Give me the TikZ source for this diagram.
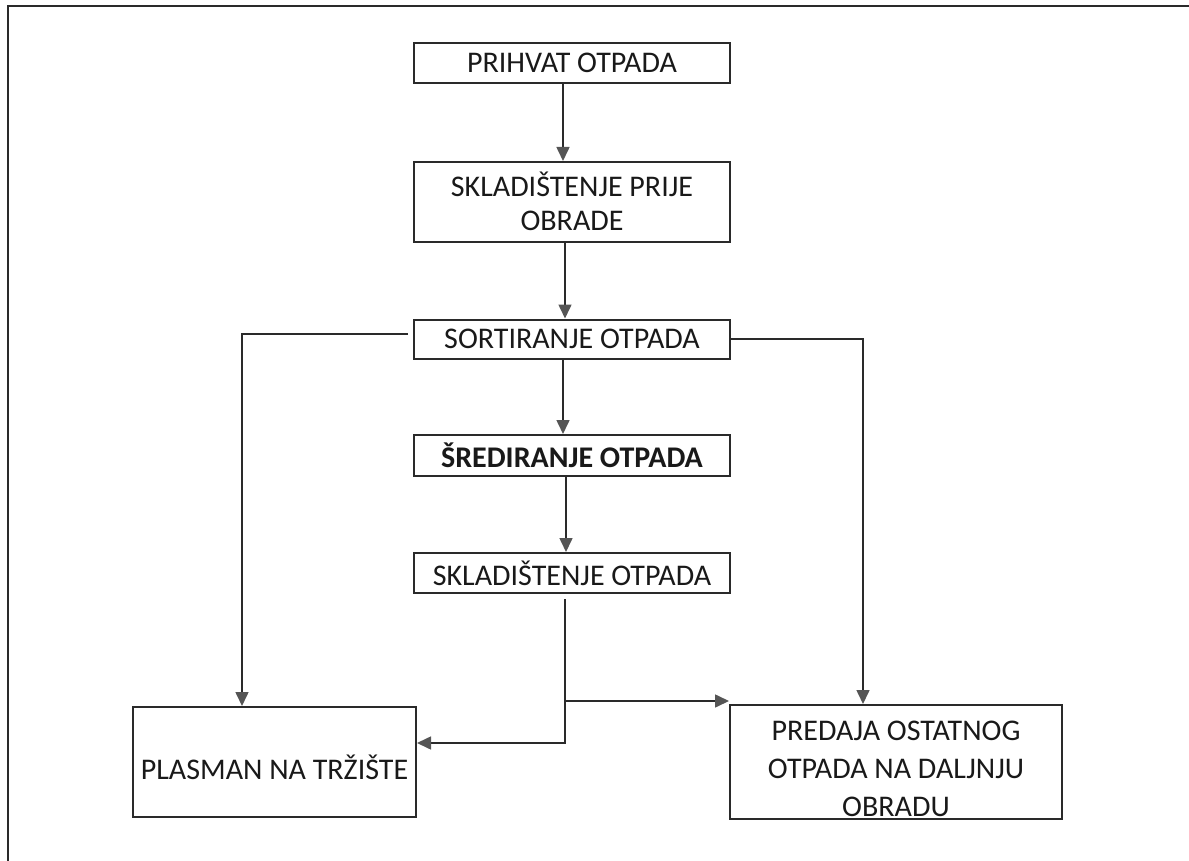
\documentclass[tikz,border=0pt]{standalone}
\usepackage{fontspec}
\setmainfont{Carlito}
\usetikzlibrary{arrows.meta,calc}
\definecolor{linec}{HTML}{2A2A2A}
\definecolor{tipc}{HTML}{555555}
\newcommand{\lowerby}[2]{\raisebox{-#1}[\height][\depth]{#2}}
\begin{document}
\begin{tikzpicture}[x=1pt,y=-1pt,
  box/.style={draw=linec,line width=2pt,align=center,inner sep=0pt,
    font=\fontsize{30}{34}\selectfont,text=black!90},
  conn/.style={draw=linec,line width=1.6pt,
    -{Triangle[length=14pt,width=13pt,color=tipc]}}]
\useasboundingbox (0,0) rectangle (1189,861);
\draw[linec,line width=2.5pt] (8,861) -- (8,6) -- (1189,6);

\node[box,minimum width=316pt,minimum height=40pt] (p1) at (572,63) {PRIHVAT OTPADA};
\node[box,minimum width=316pt,minimum height=80pt] (p2) at (572,202) {\lowerby{4pt}{\begin{tabular}{@{}c@{}}SKLADIŠTENJE PRIJE\\OBRADE\end{tabular}}};
\node[box,minimum width=316pt,minimum height=39pt] (p3) at (572,339) {SORTIRANJE OTPADA};
\node[box,minimum width=316pt,minimum height=41pt,font=\fontsize{30}{34}\selectfont\bfseries] (p4) at (572,455.5) {ŠREDIRANJE OTPADA};
\node[box,minimum width=316pt,minimum height=40pt] (p5) at (572,573) {SKLADIŠTENJE OTPADA};
\node[box,minimum width=283pt,minimum height=110pt] (p6) at (274.5,762) {\lowerby{5pt}{PLASMAN NA TRŽIŠTE}};
\node[box,minimum width=332pt,minimum height=110pt,font=\fontsize{30}{38}\selectfont] (p7) at (896,762) {\lowerby{9pt}{\begin{tabular}{@{}c@{}}PREDAJA OSTATNOG\\OTPADA NA DALJNJU\\OBRADU\end{tabular}}};

\draw[conn] ([xshift=-9pt]p1.south) -- ([xshift=-9pt]p2.north);
\draw[conn] ([xshift=-7pt]p2.south) -- ([xshift=-7pt]p3.north);
\draw[conn] ([xshift=-9pt]p3.south) -- ([xshift=-9pt]p4.north);
\draw[conn] ([xshift=-6pt]p4.south) -- ([xshift=-6pt]p5.north);

\coordinate (sl) at ([xshift=-5pt,yshift=5pt]p3.west);
\draw[conn] (sl) -| ([xshift=-32.5pt]p6.north);
\draw[conn] (p3.east) -| ([xshift=-33pt]p7.north);

\coordinate (s5) at ([xshift=-7pt,yshift=-5pt]p5.south);
\coordinate (t7) at ([yshift=3pt]p7.north west);
\draw[conn] (s5) |- ([yshift=19pt]p6.east);
\draw[conn] (s5 |- t7) -- (t7);
\end{tikzpicture}
\end{document}
